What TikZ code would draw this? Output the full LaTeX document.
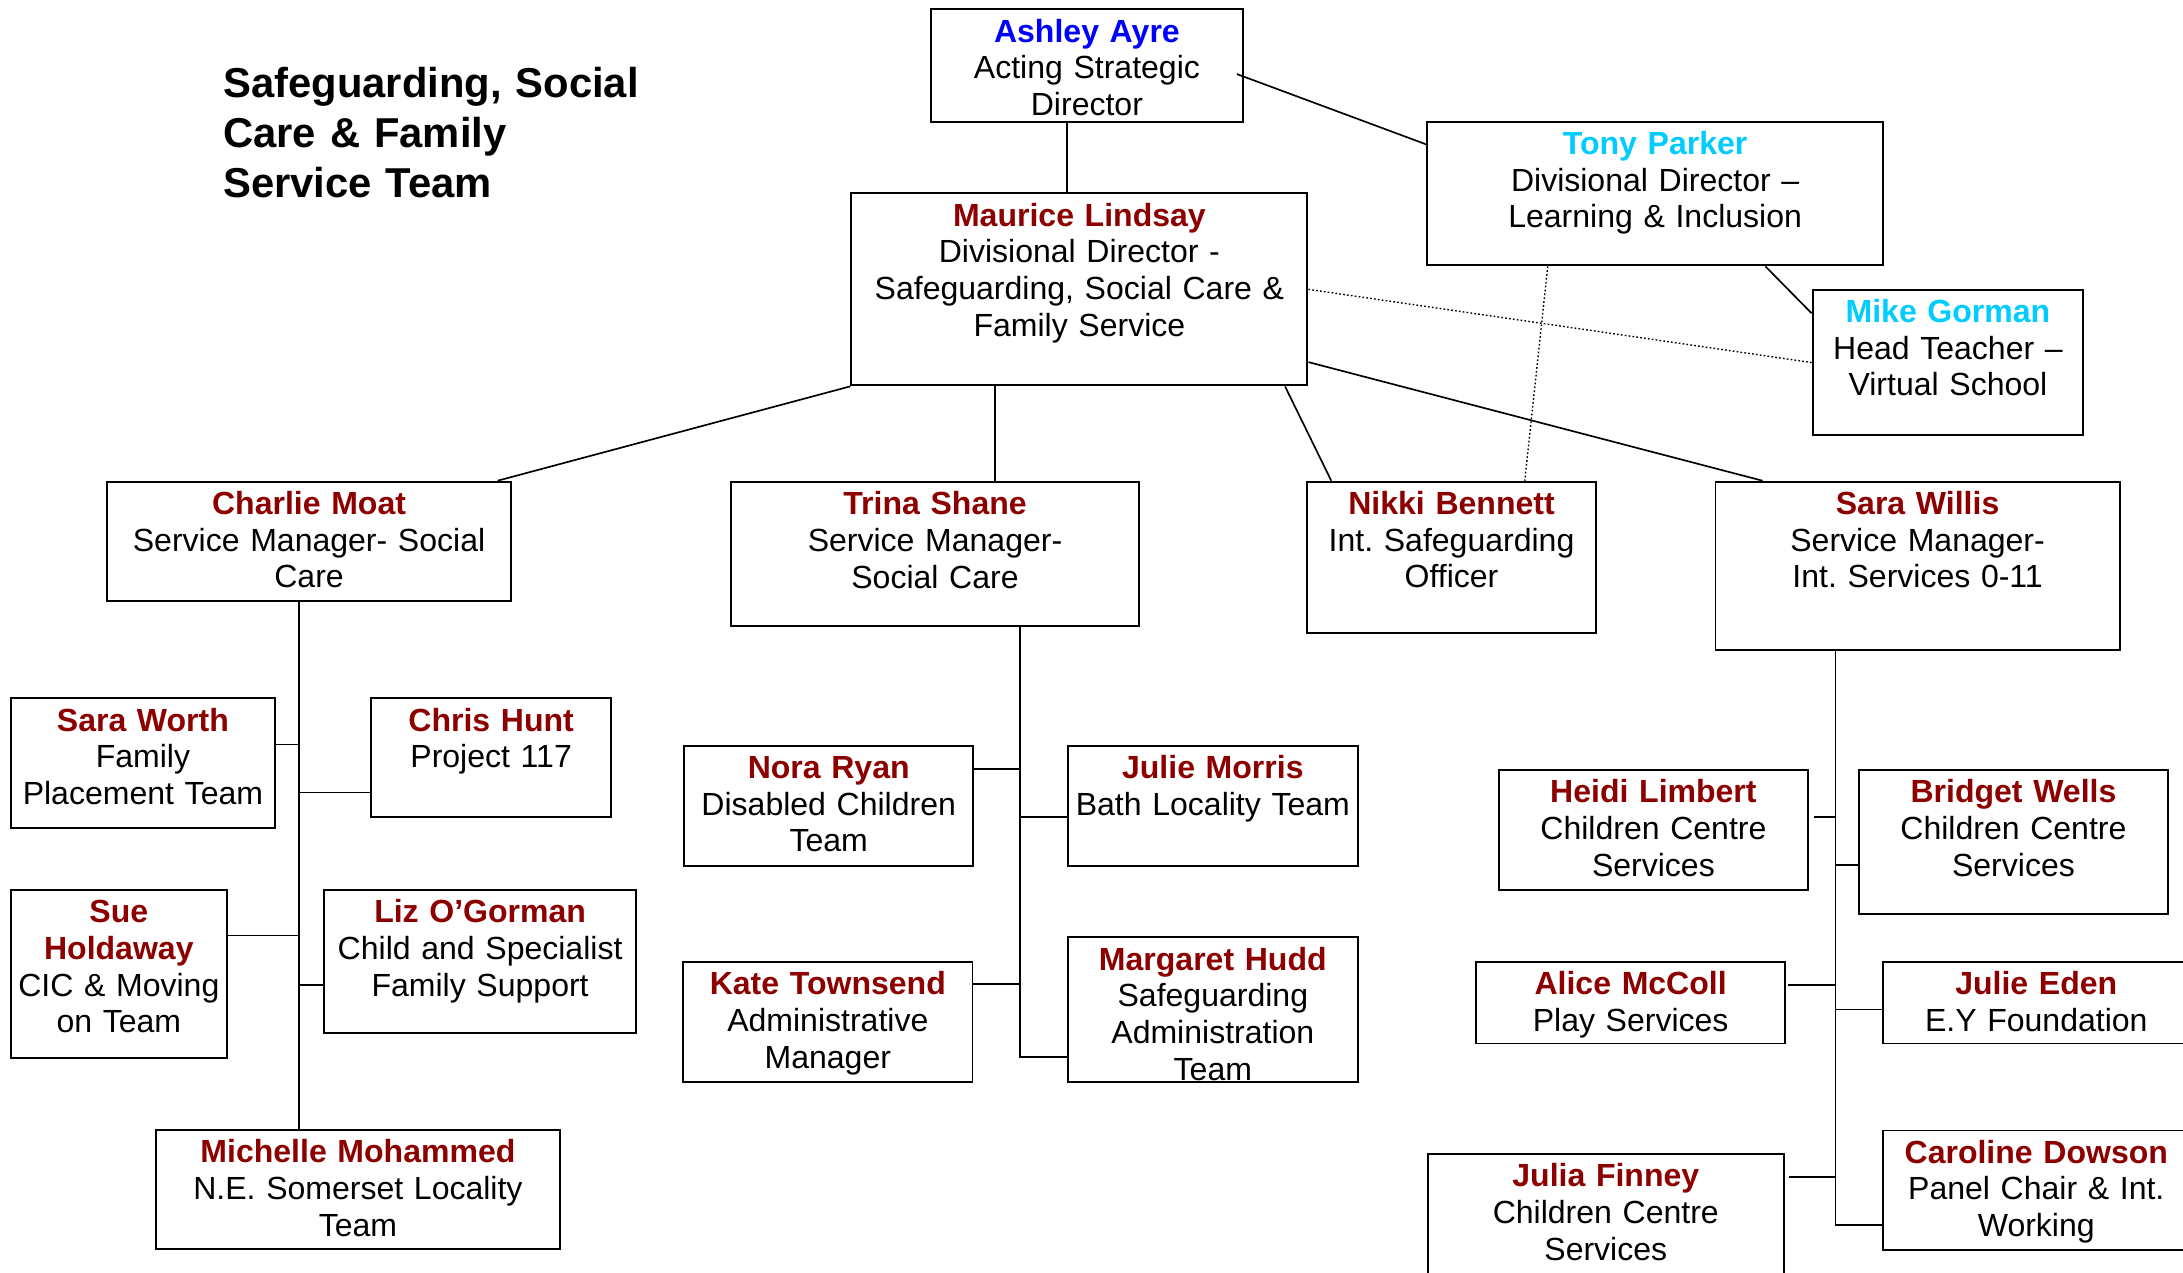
\documentclass[tikz,border=0pt]{standalone}
\usepackage{fontspec}
\setmainfont{Liberation Sans}
\usepackage{xcolor}
\definecolor{darkred}{HTML}{8C0000}
\definecolor{topblue}{HTML}{0000FF}
\definecolor{lightblue}{HTML}{00CCFF}
\usepackage{tikz}
\usetikzlibrary{positioning, calc}

\newcommand{\staff}[2][darkred]{\textcolor{#1}{\bfseries #2}}
\frenchspacing

\begin{document}
\begin{tikzpicture}[x=0.5pt, y=-0.5pt]
        % Define block styles
        \tikzstyle{box} = [rectangle, draw, line width=0.7pt, anchor=north west, inner sep=0pt, align=center, text height=11.75pt, font=\fontsize{11.5}{13.2}\selectfont]
        \tikzstyle{line} = [draw, line width=0.6pt]
        \tikzstyle{link} = [draw, line width=0.5pt, dash pattern=on 0.6pt off 0.8pt]

        \useasboundingbox (0,0) rectangle (1568,914);
        \clip (0,0) rectangle (1568,914);

        % Title
        \node [anchor=north west, inner sep=0pt, text width=170pt, align=left, text height=10.5pt, font=\fontsize{15}{18}\selectfont\bfseries] (title) at (160,48.4) {Safeguarding, Social\\ Care \& Family\\ Service Team};

        % Nodes
        \node [box, text width=112pt, text depth=28.75pt] (ashley) at (668,6) {\staff[topblue]{Ashley Ayre}\\ Acting Strategic\\ Director};
        \node [box, text width=163.75pt, text depth=39.85pt] (tony) at (1024.4,86.7) {\staff[lightblue]{Tony Parker}\\ Divisional Director --\\ Learning \& Inclusion};
        \node [box, text width=163.8pt, text depth=57.2pt] (maurice) at (610.8,138.2) {\staff{Maurice Lindsay}\\ Divisional Director -\\ Safeguarding, Social Care \&\\ Family Service};
        \node [box, text width=97.25pt, text depth=40.55pt] (mike) at (1301.2,207.4) {\staff[lightblue]{Mike Gorman}\\ Head Teacher --\\ Virtual School};

        \node [box, text width=145.3pt, text depth=31.2pt] (charlie) at (76,345.3) {\staff{Charlie Moat}\\ Service Manager- Social\\ Care};
        \node [box, text width=146.6pt, text depth=39.85pt] (trina) at (524.3,345.7) {\staff{Trina Shane}\\ Service Manager-\\ Social Care};
        \node [box, text width=103.7pt, text depth=42.6pt] (nikki) at (938.2,345.3) {\staff{Nikki Bennett}\\ Int. Safeguarding\\ Officer};
        \node [box, text width=145.15pt, text depth=48.7pt] (swillis) at (1231.5,345.3) {\staff{Sara Willis}\\ Service Manager-\\ Int. Services 0-11};

        % Social care team
        \node [box, text width=94.95pt, text depth=34.7pt] (sworth) at (7,500.9) {\staff{Sara Worth}\\ Family\\ Placement Team};
        \node [box, text width=86.25pt, text depth=30.9pt] (chunt) at (265.8,500.9) {\staff{Chris Hunt}\\ Project 117};
        \node [box, text width=77.65pt, text depth=48.5pt] (sue) at (7,638.5) {\staff{Sue}\\ \staff{Holdaway}\\ CIC \& Moving\\ on Team};
        \node [box, text width=112.25pt, text depth=39.8pt] (liz) at (231.9,638.5) {\staff{Liz O’Gorman}\\ Child and Specialist\\ Family Support};
        \node [box, text width=145.1pt, text depth=31.05pt] (michelle) at (111.3,811.1) {\staff{Michelle Mohammed}\\ N.E. Somerset Locality\\ Team};

        \node [box, text width=103.85pt, text depth=31.5pt] (nora) at (490.7,534.8) {\staff{Nora Ryan}\\ Disabled Children\\ Team};
        \node [box, text width=104.05pt, text depth=31.5pt] (jmorris) at (766.4,534.8) {\staff{Julie Morris}\\ Bath Locality Team};
        \node [box, text width=103.9pt, text depth=31.25pt] (kate) at (490,690.2) {\staff{Kate Townsend}\\ Administrative\\ Manager};
        \node [box, text width=104.05pt, text depth=40.05pt] (margaret) at (766.4,672.6) {\staff{Margaret Hudd}\\ Safeguarding\\ Administration\\ Team};

        % Integrated services team
        \node [box, text width=110.9pt, text depth=31.35pt] (heidi) at (1076,552.4) {\staff{Heidi Limbert}\\ Children Centre\\ Services};
        \node [box, text width=110.9pt, text depth=39.95pt] (bridget) at (1334.6,552.4) {\staff{Bridget Wells}\\ Children Centre\\ Services};
        \node [box, text width=110.75pt, text depth=17.5pt] (alice) at (1059.8,690.3) {\staff{Alice McColl}\\ Play Services};
        \node [box, text width=110pt, text depth=17.5pt] (jeden) at (1351.9,690.3) {\staff{Julie Eden}\\ E.Y Foundation};
        \node [box, text width=127.8pt, text depth=38.25pt] (jfinney) at (1024.9,828.2) {\staff{Julia Finney}\\ Children Centre\\ Services};
        \node [box, text width=110pt, text depth=31.25pt] (caroline) at (1351.9,811.3) {\staff{Caroline Dowson}\\ Panel Chair \& Int.\\ Working};

        % Paths
        \path [line] ([shift={(-14.4,0)}]ashley.south) coordinate (a1) -- (a1 |- maurice.north);
        \path [line] ([shift={(-5,6)}]ashley.east) -- ([shift={(0,17)}]tony.north west);
        \path [line] ([shift={(-85.3,0)}]tony.south east) -- ([shift={(0,17.6)}]mike.north west);
        \path [link] (maurice.east) -- (mike.west);
        \path [link] ([shift={(87.3,0)}]tony.south west) -- ([shift={(157,0)}]nikki.north west);
        \path [line] (maurice.south west) -- ([shift={(-10.6,0)}]charlie.north east);
        \path [line] ([shift={(104,0)}]maurice.south west) coordinate (m1) -- (m1 |- trina.north);
        \path [line] ([shift={(-16.8,0)}]maurice.south east) -- ([shift={(18,0)}]nikki.north west);
        \path [line] ([shift={(0,-17.4)}]maurice.south east) -- ([shift={(34.5,0)}]swillis.north west);

        \path [line] ([shift={(138.8,0)}]charlie.south west) coordinate (c0) -- (c0 |- michelle.north);
        \path [line] ([shift={(0,33.8)}]sworth.north east) coordinate (c1) -- (c1 -| c0);
        \path [line] ([shift={(0,68.4)}]chunt.north west) coordinate (c2) -- (c2 -| c0);
        \path [line] ([shift={(0,33.5)}]sue.north east) coordinate (c3) -- (c3 -| c0);
        \path [line] ([shift={(0,68.8)}]liz.north west) coordinate (c4) -- (c4 -| c0);

        \coordinate (t0) at ([shift={(208.1,0)}]trina.south west);
        \path [line] ([shift={(0,86.5)}]margaret.north west) coordinate (t4) -| (t0);
        \path [line] ([shift={(0,17.6)}]nora.north east) coordinate (t1) -- (t1 -| t0);
        \path [line] ([shift={(0,51.9)}]jmorris.north west) coordinate (t2) -- (t2 -| t0);
        \path [line] ([shift={(0,16.7)}]kate.north east) coordinate (t3) -- (t3 -| t0);

        \coordinate (w0) at ([shift={(86.9,0)}]swillis.south west);
        \path [line] ([shift={(0,68.7)}]caroline.north west) coordinate (w6) -| (w0);
        \path [line] ([shift={(3.6,34.5)}]heidi.north east) coordinate (w1) -- (w1 -| w0);
        \path [line] ([shift={(0,69)}]bridget.north west) coordinate (w2) -- (w2 -| w0);
        \path [line] ([shift={(1.7,17)}]alice.north east) coordinate (w3) -- (w3 -| w0);
        \path [line] ([shift={(0,34.8)}]jeden.north west) coordinate (w4) -- (w4 -| w0);
        \path [line] ([shift={(3,17.3)}]jfinney.north east) coordinate (w5) -- (w5 -| w0);

    \end{tikzpicture}
\end{document}
